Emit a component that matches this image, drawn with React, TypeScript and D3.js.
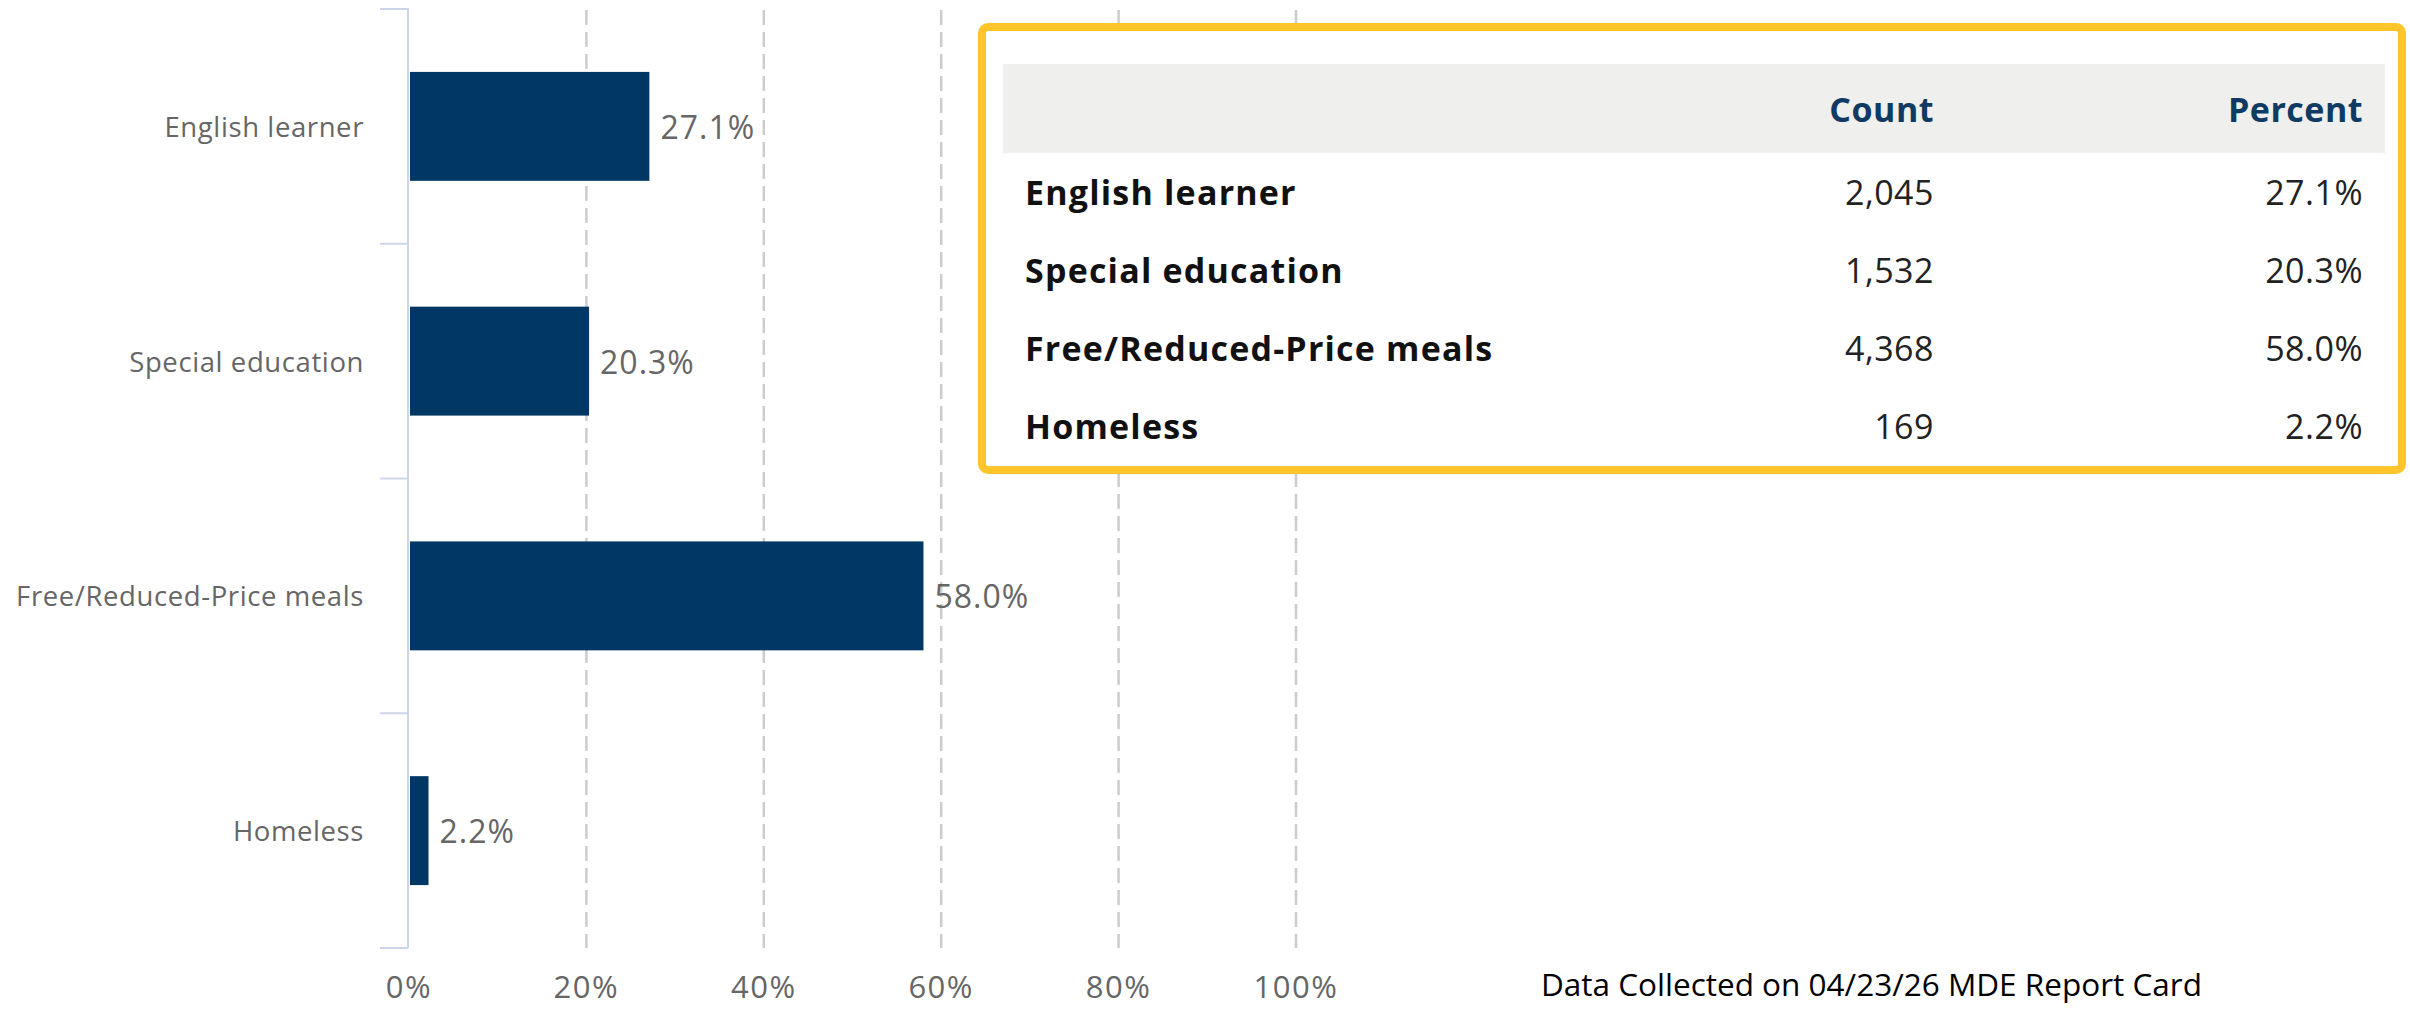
import React from "react";
import * as d3 from "d3";

const categories = ["English learner", "Special education", "Free/Reduced-Price meals", "Homeless"];
const percents = [27.1, 20.3, 58.0, 2.2];
const counts = [2045, 1532, 4368, 169];
const xTicks = [0, 20, 40, 60, 80, 100];
const tableHeaders = ["Count", "Percent"];
const footnote = "Data Collected on 04/23/26 MDE Report Card";

const W = 2410;
const H = 1011;

export default function App() {
  const x = d3.scaleLinear().domain([0, 100]).range([409, 1296]);
  const y = d3
    .scaleBand<string>()
    .domain(categories)
    .range([9, 948])
    .paddingInner(0.536)
    .paddingOuter(0.268);
  const bandTicks = d3.range(categories.length + 1).map((i) => 9 + i * y.step());
  const rowY = d3.scalePoint<string>().domain(categories).range([205, 439]);
  const fmtCount = d3.format(",");
  const fmtPct = (v: number) => d3.format(".1f")(v) + "%";

  const labelFont = "'Open Sans', sans-serif";
  const gray = "#666666";

  return (
    <svg
      width={W}
      height={H}
      style={{ position: "absolute", left: 0, top: 0, background: "#fff" }}
      fontFamily={labelFont}
    >
      {/* gridlines */}
      {xTicks.slice(1).map((t) => (
        <line
          key={"g" + t}
          x1={x(t)}
          x2={x(t)}
          y1={10}
          y2={948}
          stroke="#cccccc"
          strokeWidth={2.5}
          strokeDasharray="15,7"
        />
      ))}
      {/* y axis line and ticks */}
      <line x1={408} x2={408} y1={8} y2={948} stroke="#ccd6eb" strokeWidth={2} />
      {bandTicks.map((t, i) => (
        <line key={"t" + i} x1={380} x2={408} y1={t} y2={t} stroke="#ccd6eb" strokeWidth={2} />
      ))}
      {/* bars */}
      {categories.map((c, i) => (
        <rect
          key={"b" + c}
          x={x(0) + 1}
          y={y(c)}
          width={x(percents[i]) - x(0) - 1}
          height={y.bandwidth()}
          fill="#003764"
        />
      ))}
      {/* data labels */}
      {categories.map((c, i) => (
        <text
          key={"d" + c}
          x={x(percents[i]) + 11}
          y={(y(c) as number) + y.bandwidth() / 2}
          dominantBaseline="central"
          fontSize={32}
          letterSpacing={1}
          fill={gray}
        >
          {fmtPct(percents[i])}
        </text>
      ))}
      {/* category labels */}
      {categories.map((c) => (
        <text
          key={"c" + c}
          x={364}
          y={(y(c) as number) + y.bandwidth() / 2}
          dominantBaseline="central"
          textAnchor="end"
          fontSize={27.5}
          letterSpacing={0.6}
          fill={gray}
        >
          {c}
        </text>
      ))}
      {/* x axis labels */}
      {xTicks.map((t) => (
        <text
          key={"x" + t}
          x={x(t)}
          y={998}
          textAnchor="middle"
          fontSize={31}
          letterSpacing={1.5}
          fill={gray}
        >
          {t}%
        </text>
      ))}

      {/* table */}
      <rect x={982} y={27} width={1420} height={443} rx={6} fill="#ffffff" stroke="#ffc52b" strokeWidth={8} />
      <rect x={1003} y={64} width={1382} height={89} fill="#efefed" />
      <text x={1934} y={122} textAnchor="end" fontSize={34} fontWeight={700} letterSpacing={0.5} fill="#0e3a63">
        {tableHeaders[0]}
      </text>
      <text x={2363} y={122} textAnchor="end" fontSize={34} fontWeight={700} letterSpacing={0.5} fill="#0e3a63">
        {tableHeaders[1]}
      </text>
      {categories.map((c, i) => (
        <g key={"r" + c}>
          <text x={1025} y={rowY(c)} fontSize={34} fontWeight={700} letterSpacing={1.2} fill="#111111">
            {c}
          </text>
          <text x={1934} y={rowY(c)} textAnchor="end" fontSize={34} letterSpacing={0.5} fill="#222222">
            {fmtCount(counts[i])}
          </text>
          <text x={2363} y={rowY(c)} textAnchor="end" fontSize={34} letterSpacing={0.5} fill="#222222">
            {fmtPct(percents[i])}
          </text>
        </g>
      ))}

      {/* footnote */}
      <text x={1541} y={996} fontSize={31.5} fill="#000000">
        {footnote}
      </text>
    </svg>
  );
}
